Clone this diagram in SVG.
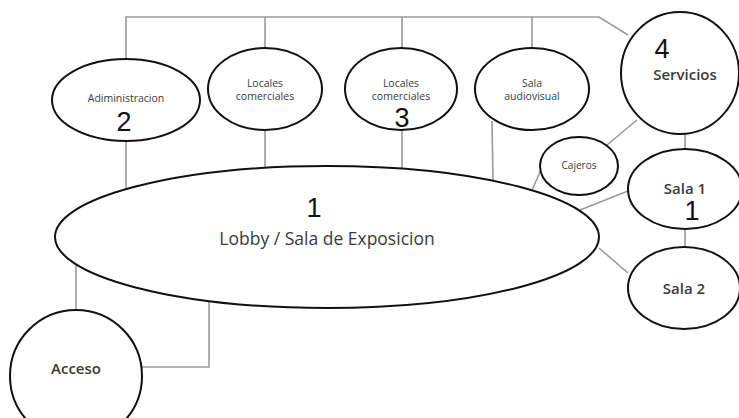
<svg xmlns="http://www.w3.org/2000/svg" width="739" height="418" viewBox="0 0 739 418">
<style>
.n{fill:#fff;stroke:#111;stroke-width:2}
.c{fill:none;stroke:#9a9a9a;stroke-width:1.6}
.l{font-family:"Open Sans","Noto Sans",sans-serif;fill:#3a3a3a;text-anchor:middle}
.s{font-size:10.5px}
.m{font-size:15px;font-weight:600}
.d{font-family:"Liberation Sans",Arial,sans-serif;font-size:27px;fill:#111;text-anchor:middle}
</style>
<rect width="739" height="418" fill="#fff"/>
<g id="connectors">
<polyline class="c" points="126,59 126,17 599,17 628,35"/>
<line class="c" x1="265" y1="17" x2="265" y2="48"/>
<line class="c" x1="402" y1="17" x2="402" y2="48"/>
<line class="c" x1="532" y1="17" x2="532" y2="48"/>
<line class="c" x1="126" y1="141" x2="126" y2="190"/>
<line class="c" x1="265" y1="130" x2="265" y2="168"/>
<line class="c" x1="402" y1="130" x2="402" y2="168"/>
<line class="c" x1="492" y1="121" x2="493" y2="181"/>
<line class="c" x1="607" y1="145" x2="637" y2="120"/>
<line class="c" x1="541" y1="170" x2="532" y2="190"/>
<line class="c" x1="685" y1="134" x2="685" y2="149"/>
<line class="c" x1="580" y1="210" x2="628" y2="191"/>
<line class="c" x1="685" y1="229" x2="685" y2="247"/>
<line class="c" x1="599" y1="248" x2="628" y2="273"/>
<line class="c" x1="76" y1="262" x2="76" y2="310"/>
<polyline class="c" points="142,367 209,367 209,299"/>
</g>
<g id="lobby">
<ellipse class="n" cx="327" cy="237" rx="272" ry="71"/>
<text class="d" x="314" y="217">1</text>
<text class="l" x="327" y="245" style="font-size:17.5px">Lobby / Sala de Exposicion</text>
</g>
<g id="administracion">
<ellipse class="n" cx="126" cy="100" rx="74" ry="41"/>
<text class="l s" x="126" y="102">Adiministracion</text>
<text class="d" x="124" y="131">2</text>
</g>
<g id="locales1">
<ellipse class="n" cx="265" cy="89" rx="57" ry="41"/>
<text class="l s" x="265" y="87">Locales</text>
<text class="l s" x="265" y="100">comerciales</text>
</g>
<g id="locales2">
<ellipse class="n" cx="401" cy="89" rx="56" ry="41"/>
<text class="l s" x="401" y="87">Locales</text>
<text class="l s" x="401" y="100">comerciales</text>
<text class="d" x="402" y="127">3</text>
</g>
<g id="audiovisual">
<ellipse class="n" cx="532" cy="89" rx="57" ry="41"/>
<text class="l s" x="532" y="87">Sala</text>
<text class="l s" x="532" y="100">audiovisual</text>
</g>
<g id="servicios">
<ellipse class="n" cx="680" cy="73" rx="59" ry="61"/>
<text class="d" x="662" y="58">4</text>
<text class="l m" x="685" y="80">Servicios</text>
</g>
<g id="cajeros">
<ellipse class="n" cx="579" cy="166" rx="39" ry="29"/>
<text class="l" x="579" y="169" style="font-size:10px">Cajeros</text>
</g>
<g id="sala1">
<ellipse class="n" cx="685" cy="189" rx="57" ry="40"/>
<text class="l m" x="685" y="194">Sala 1</text>
<text class="d" x="692" y="220">1</text>
</g>
<g id="sala2">
<ellipse class="n" cx="684" cy="288" rx="56" ry="41"/>
<text class="l m" x="684" y="294">Sala 2</text>
</g>
<g id="acceso">
<ellipse class="n" cx="76" cy="376" rx="66" ry="66"/>
<text class="l" x="76" y="374" style="font-size:15px;font-weight:600">Acceso</text>
</g>
</svg>
